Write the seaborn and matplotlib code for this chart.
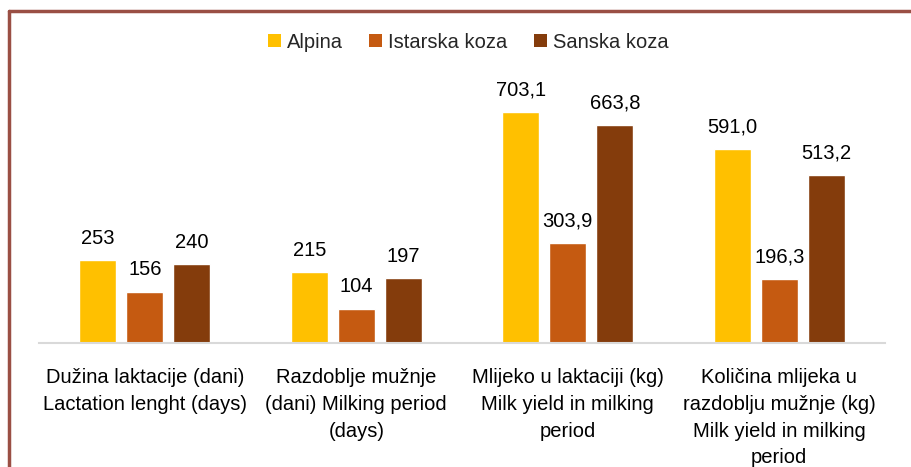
import matplotlib
matplotlib.use("Agg")
import matplotlib.pyplot as plt
import seaborn as sns
import pandas as pd
from matplotlib.lines import Line2D
from matplotlib.patches import Patch

categories = [
    "Dužina laktacije (dani)\nLactation lenght (days)",
    "Razdoblje mužnje\n(dani) Milking period\n(days)",
    "Mlijeko u laktaciji (kg)\nMilk yield in milking\nperiod",
    "Količina mlijeka u\nrazdoblju mužnje (kg)\nMilk yield in milking\nperiod",
]
series = ["Alpina", "Istarska koza", "Sanska koza"]
alpina = [253, 215, 703.1, 591.0]
istarska = [156, 104, 303.9, 196.3]
sanska = [240, 197, 663.8, 513.2]
decimals = [0, 0, 1, 1]
colors = ["#FFC000", "#C55A11", "#843C0C"]

rows = []
for s, vals in zip(series, [alpina, istarska, sanska]):
    for c, v in zip(categories, vals):
        rows.append({"cat": c, "series": s, "value": v})
df = pd.DataFrame(rows)

sns.set_theme(style="white")
plt.rcParams["font.family"] = ["Liberation Sans", "DejaVu Sans"]

fig = plt.figure(figsize=(9.11, 4.67), dpi=100)
ax = fig.add_axes([39/911, 1-343/467, (885-39)/911, (343-40)/467])

sns.barplot(data=df, x="cat", y="value", hue="series", palette=colors,
            width=0.667, gap=0.21, ax=ax, legend=False, saturation=1)

for cont, vals in zip(ax.containers, [alpina, istarska, sanska]):
    labels = [f"{v:.{d}f}".replace(".", ",") for v, d in zip(vals, decimals)]
    ax.bar_label(cont, labels=labels, padding=9, fontsize=14.5, color="#000000")

ax.set_ylim(0, 924)
ax.set_xlim(-0.5, 3.5)
ax.set_xlabel("")
ax.set_ylabel("")
ax.set_yticks([])
for s in ["top", "right", "left"]:
    ax.spines[s].set_visible(False)
ax.spines["bottom"].set_color("#D9D9D9")
ax.spines["bottom"].set_linewidth(1.5)
ax.tick_params(axis="x", length=0, pad=18, labelsize=14.5, labelcolor="#000000")
for t in ax.get_xticklabels():
    t.set_linespacing(1.52)
    t.set_verticalalignment("top")

handles = [Patch(facecolor=c, edgecolor="none", label=s) for c, s in zip(colors, series)]
fig.legend(handles=handles, loc="center", bbox_to_anchor=(468/911, 1-42/467), ncol=3,
           frameon=False, fontsize=14.5, handlelength=0.65, handleheight=0.65,
           handletextpad=0.3, columnspacing=1.3)

border = "#9A4F44"
fig.add_artist(Line2D([9/911, 9/911], [0, 1-11/467], color=border, lw=2.5,
                      transform=fig.transFigure))
fig.add_artist(Line2D([9/911, 1], [1-11/467, 1-11/467], color=border, lw=2.5,
                      transform=fig.transFigure))

fig.savefig("out.png", dpi=100)
